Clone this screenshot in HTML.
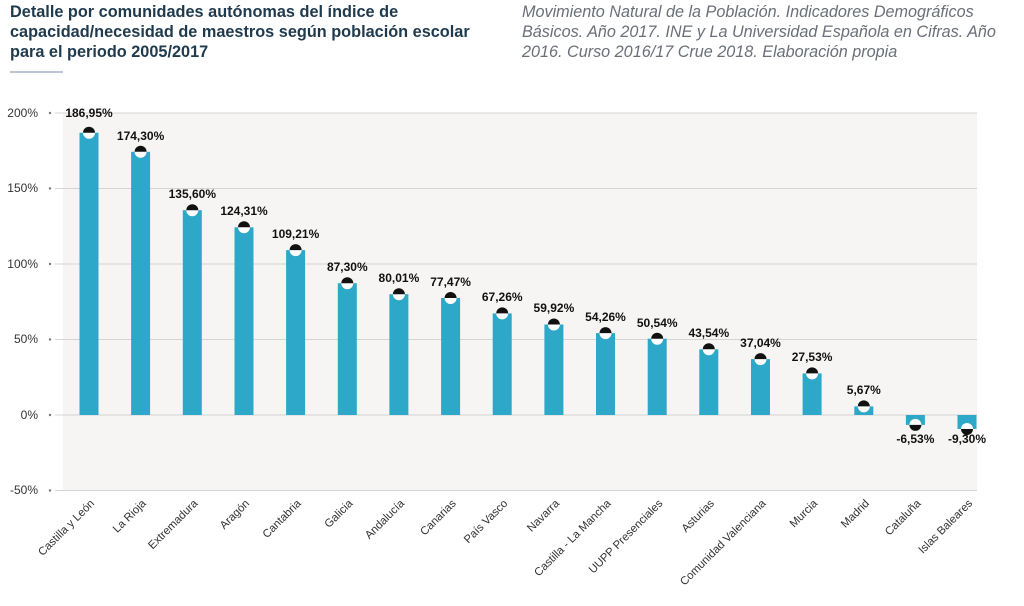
<!DOCTYPE html>
<html><head><meta charset="utf-8"><style>
body{margin:0;background:#fff;width:1024px;height:601px;overflow:hidden;font-family:"Liberation Sans",sans-serif}
</style></head><body>
<svg width="1024" height="601" xmlns="http://www.w3.org/2000/svg" font-family="Liberation Sans, sans-serif">
<text font-size="16.3" font-weight="bold" fill="#1f3a4d"><tspan x="10" y="17">Detalle por comunidades autónomas del índice de</tspan><tspan x="10" y="37">capacidad/necesidad de maestros según población escolar</tspan><tspan x="10" y="57">para el periodo 2005/2017</tspan></text>
<line x1="10" y1="72" x2="63" y2="72" stroke="#a8b0c8" stroke-width="1.5"/>
<text font-size="16.2" font-style="italic" fill="#6a6f78"><tspan x="522" y="17">Movimiento Natural de la Población. Indicadores Demográficos</tspan><tspan x="522" y="37">Básicos. Año 2017. INE y La Universidad Española en Cifras. Año</tspan><tspan x="522" y="57">2016. Curso 2016/17 Crue 2018. Elaboración propia</tspan></text>
<rect x="63" y="113" width="914" height="377" fill="#f6f5f3"/>
<g stroke="#d4d4d4" stroke-width="1">
<line x1="55" y1="113" x2="977" y2="113"/><line x1="55" y1="188.5" x2="977" y2="188.5"/><line x1="55" y1="264" x2="977" y2="264"/><line x1="55" y1="339.5" x2="977" y2="339.5"/><line x1="55" y1="415" x2="977" y2="415"/><line x1="55" y1="490.5" x2="977" y2="490.5"/>
</g>
<g fill="#777"><circle cx="50" cy="113" r="1.2"/><circle cx="50" cy="188.5" r="1.2"/><circle cx="50" cy="264" r="1.2"/><circle cx="50" cy="339.5" r="1.2"/><circle cx="50" cy="415" r="1.2"/><circle cx="50" cy="490.5" r="1.2"/></g>
<g font-size="12" fill="#333" text-anchor="end">
<text x="38" y="117">200%</text><text x="38" y="192">150%</text><text x="38" y="268">100%</text><text x="38" y="343">50%</text><text x="38" y="419">0%</text><text x="38" y="494">-50%</text>
</g>
<g fill="#2ea8c9">
<rect x="79.5" y="132.7" width="19" height="282.3"/>
<rect x="131.1" y="151.8" width="19" height="263.2"/>
<rect x="182.8" y="210.2" width="19" height="204.8"/>
<rect x="234.5" y="227.3" width="19" height="187.7"/>
<rect x="286.1" y="250.1" width="19" height="164.9"/>
<rect x="337.8" y="283.2" width="19" height="131.8"/>
<rect x="389.4" y="294.2" width="19" height="120.8"/>
<rect x="441.1" y="298" width="19" height="117"/>
<rect x="492.7" y="313.4" width="19" height="101.6"/>
<rect x="544.4" y="324.5" width="19" height="90.5"/>
<rect x="596" y="333.1" width="19" height="81.9"/>
<rect x="647.7" y="338.7" width="19" height="76.3"/>
<rect x="699.3" y="349.3" width="19" height="65.7"/>
<rect x="751" y="359.1" width="19" height="55.9"/>
<rect x="802.6" y="373.4" width="19" height="41.6"/>
<rect x="854.3" y="406.4" width="19" height="8.6"/>
<rect x="905.9" y="415" width="19" height="9.9"/>
<rect x="957.5" y="415" width="19" height="14"/>
</g>
<g>
<g transform="translate(89,132.7)"><circle r="6" fill="#fff"/><path d="M-6,0A6,6 0 0 1 6,0Z" fill="#111"/></g>
<g transform="translate(140.6,151.8)"><circle r="6" fill="#fff"/><path d="M-6,0A6,6 0 0 1 6,0Z" fill="#111"/></g>
<g transform="translate(192.3,210.2)"><circle r="6" fill="#fff"/><path d="M-6,0A6,6 0 0 1 6,0Z" fill="#111"/></g>
<g transform="translate(244,227.3)"><circle r="6" fill="#fff"/><path d="M-6,0A6,6 0 0 1 6,0Z" fill="#111"/></g>
<g transform="translate(295.6,250.1)"><circle r="6" fill="#fff"/><path d="M-6,0A6,6 0 0 1 6,0Z" fill="#111"/></g>
<g transform="translate(347.3,283.2)"><circle r="6" fill="#fff"/><path d="M-6,0A6,6 0 0 1 6,0Z" fill="#111"/></g>
<g transform="translate(398.9,294.2)"><circle r="6" fill="#fff"/><path d="M-6,0A6,6 0 0 1 6,0Z" fill="#111"/></g>
<g transform="translate(450.6,298)"><circle r="6" fill="#fff"/><path d="M-6,0A6,6 0 0 1 6,0Z" fill="#111"/></g>
<g transform="translate(502.2,313.4)"><circle r="6" fill="#fff"/><path d="M-6,0A6,6 0 0 1 6,0Z" fill="#111"/></g>
<g transform="translate(553.9,324.5)"><circle r="6" fill="#fff"/><path d="M-6,0A6,6 0 0 1 6,0Z" fill="#111"/></g>
<g transform="translate(605.5,333.1)"><circle r="6" fill="#fff"/><path d="M-6,0A6,6 0 0 1 6,0Z" fill="#111"/></g>
<g transform="translate(657.2,338.7)"><circle r="6" fill="#fff"/><path d="M-6,0A6,6 0 0 1 6,0Z" fill="#111"/></g>
<g transform="translate(708.8,349.3)"><circle r="6" fill="#fff"/><path d="M-6,0A6,6 0 0 1 6,0Z" fill="#111"/></g>
<g transform="translate(760.5,359.1)"><circle r="6" fill="#fff"/><path d="M-6,0A6,6 0 0 1 6,0Z" fill="#111"/></g>
<g transform="translate(812.1,373.4)"><circle r="6" fill="#fff"/><path d="M-6,0A6,6 0 0 1 6,0Z" fill="#111"/></g>
<g transform="translate(863.8,406.4)"><circle r="6" fill="#fff"/><path d="M-6,0A6,6 0 0 1 6,0Z" fill="#111"/></g>
<g transform="translate(915.4,424.9)"><circle r="6" fill="#fff"/><path d="M-6,0A6,6 0 0 0 6,0Z" fill="#111"/></g>
<g transform="translate(967,429)"><circle r="6" fill="#fff"/><path d="M-6,0A6,6 0 0 0 6,0Z" fill="#111"/></g>
</g>
<g font-size="12" font-weight="bold" fill="#111" text-anchor="middle">
<text x="89" y="117">186,95%</text>
<text x="140.6" y="140">174,30%</text>
<text x="192.3" y="198">135,60%</text>
<text x="244" y="215">124,31%</text>
<text x="295.6" y="238">109,21%</text>
<text x="347.3" y="271">87,30%</text>
<text x="398.9" y="282">80,01%</text>
<text x="450.6" y="286">77,47%</text>
<text x="502.2" y="301">67,26%</text>
<text x="553.9" y="312">59,92%</text>
<text x="605.5" y="321">54,26%</text>
<text x="657.2" y="327">50,54%</text>
<text x="708.8" y="337">43,54%</text>
<text x="760.5" y="347">37,04%</text>
<text x="812.1" y="361">27,53%</text>
<text x="863.8" y="394">5,67%</text>
<text x="915.4" y="443">-6,53%</text>
<text x="967" y="443">-9,30%</text>
</g>
<g font-size="11.3" fill="#333" text-anchor="end">
<text transform="translate(95,504) rotate(-45)">Castilla y León</text>
<text transform="translate(146.6,504) rotate(-45)">La Rioja</text>
<text transform="translate(198.3,504) rotate(-45)">Extremadura</text>
<text transform="translate(250,504) rotate(-45)">Aragón</text>
<text transform="translate(301.6,504) rotate(-45)">Cantabria</text>
<text transform="translate(353.3,504) rotate(-45)">Galicia</text>
<text transform="translate(404.9,504) rotate(-45)">Andalucía</text>
<text transform="translate(456.6,504) rotate(-45)">Canarias</text>
<text transform="translate(508.2,504) rotate(-45)">País Vasco</text>
<text transform="translate(559.9,504) rotate(-45)">Navarra</text>
<text transform="translate(611.5,504) rotate(-45)">Castilla - La Mancha</text>
<text transform="translate(663.2,504) rotate(-45)">UUPP Presenciales</text>
<text transform="translate(714.8,504) rotate(-45)">Asturias</text>
<text transform="translate(766.5,504) rotate(-45)">Comunidad Valenciana</text>
<text transform="translate(818.1,504) rotate(-45)">Murcia</text>
<text transform="translate(869.8,504) rotate(-45)">Madrid</text>
<text transform="translate(921.4,504) rotate(-45)">Cataluña</text>
<text transform="translate(973,504) rotate(-45)">Islas Baleares</text>
</g>
</svg>
</body></html>
